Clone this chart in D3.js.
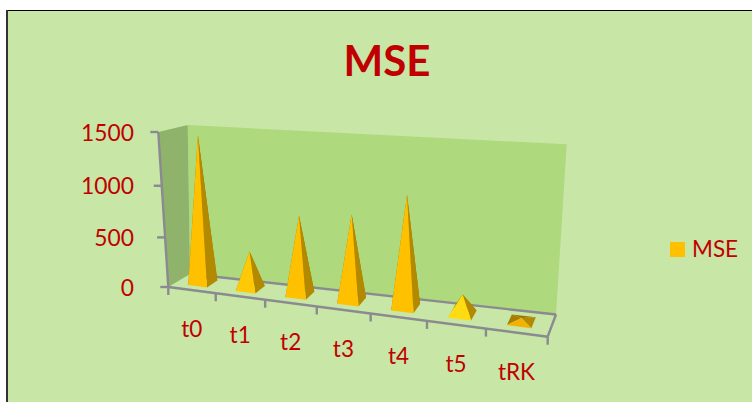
<!DOCTYPE html>
<html>
<head>
<meta charset="utf-8">
<script src="https://cdn.jsdelivr.net/npm/d3@7"></script>
<style>
html,body{margin:0;padding:0;background:#fff}
svg{display:block}
text{font-family:Lato,"Open Sans",sans-serif;fill:#c00000}
</style>
</head>
<body>
<svg id="chart" width="752" height="402"></svg>
<script>
const categories = ["t0","t1","t2","t3","t4","t5","tRK"];
const mseValues = [1450, 375, 770, 825, 1045, 185, 30];
const valueTicks = [0, 500, 1000, 1500];
const seriesName = "MSE";

const svg = d3.select("#chart");

// Chart area panel
svg.append("rect").attr("x",7).attr("y",10.5).attr("width",746).attr("height",393)
  .attr("fill","#c8e6a6").attr("stroke","#000").attr("stroke-width",1);
svg.append("rect").attr("x",6).attr("y",10).attr("width",2).attr("height",392).attr("fill","#333");

// Corners of the 3D box in screen space
const floorFL=[168.3,287], floorFR=[547.7,336.7], floorBR=[556,314.5], floorBL=[190,274];
const riseFL=[-10,-155], riseFR=[3,-176], riseBR=[10.7,-170.2], riseBL=[-2.3,-149];

const lerp=(a,b,t)=>[a[0]+(b[0]-a[0])*t,a[1]+(b[1]-a[1])*t];

// Foreshortening along the category and value axes
const foreshorten=c=>t=>t/(1+c*(1-t));
const warpU=foreshorten(1/6), warpH=foreshorten(1/16);

const band=d3.scaleBand().domain(categories).range([0,1]).paddingInner(.6).paddingOuter(.3);
const heightScale=d3.scaleLinear().domain([0,1500]).range([0,1]);

// u: along categories, v: depth (0 front, 1 back), value: height
function project(u,v,value){
  const w=warpU(u);
  const base=lerp(lerp(floorFL,floorFR,w),lerp(floorBL,floorBR,w),v);
  const rise=lerp(lerp(riseFL,riseFR,w),lerp(riseBL,riseBR,w),v);
  const h=warpH(heightScale(value));
  return [base[0]+rise[0]*h,base[1]+rise[1]*h];
}
const poly=pts=>pts.map(p=>p.map(n=>n.toFixed(2)).join(",")).join(" ");

// Walls
svg.append("polygon").attr("fill","#aed97d")
  .attr("points",poly([project(0,1,0),project(1,1,0),project(1,1,1500),project(0,1,1500)]));
svg.append("polygon").attr("fill","#8fb36b")
  .attr("points",poly([project(0,0,0),project(0,1,0),project(0,1,1500),project(0,0,1500)]));

// Floor edges and axis lines
const axisStyle=s=>s.attr("stroke","#8a8a90").attr("stroke-width",2.4).attr("fill","none");
const line=d3.line();
const edge=(a,b)=>axisStyle(svg.append("path").attr("d",line([a,b])));
edge(project(0,1,0),project(1,1,0));
edge(project(1,0,0),project(1,1,0));
edge(project(0,0,0),project(1,0,0));
edge(project(0,0,0),project(0,0,1500));

// Value axis ticks and labels
valueTicks.forEach(t=>{
  const p=project(0,0,t);
  edge([p[0]-8,p[1]],p);
  svg.append("text").attr("x",134).attr("y",p[1]+8.5).attr("text-anchor","end")
    .attr("font-size",22.8).text(d3.format("d")(t));
});

// Category axis ticks and labels
const step=band.step();
d3.range(categories.length+1).forEach(i=>{
  const p=project(i*step,0,0);
  edge(p,[p[0],p[1]+8]);
});
categories.forEach(c=>{
  const u=band(c)+band.bandwidth()/2;
  const p=project(u,0,0);
  svg.append("text").attr("x",p[0]).attr("y",p[1]+47).attr("text-anchor","middle")
    .attr("font-size",22.5).text(c);
});

// Pyramids
const frontColor=d3.scaleLinear().domain([30,170,350,700])
  .range(["#f4b200","#ffdc12","#ffcb05","#ffc000"]).clamp(true);
const depthFront=.28, depthBack=.78;
categories.forEach((c,i)=>{
  const u0=band(c), u1=u0+band.bandwidth(), um=(u0+u1)/2, vm=(depthFront+depthBack)/2;
  const fl=project(u0,depthFront,0), fr=project(u1,depthFront,0),
        br=project(u1,depthBack,0), bl=project(u0,depthBack,0),
        apex=project(um,vm,mseValues[i]);
  const front=frontColor(mseValues[i]);
  const g=svg.append("g");
  g.append("polygon").attr("points",poly([bl,br,apex])).attr("fill","#9a7400");
  g.append("polygon").attr("points",poly([fl,bl,apex])).attr("fill","#a67f00");
  g.append("polygon").attr("points",poly([fr,br,apex])).attr("fill","#b38900");
  g.append("polygon").attr("points",poly([fl,fr,apex])).attr("fill",front);
});

// Title
svg.append("text").attr("x",387).attr("y",76).attr("text-anchor","middle")
  .attr("font-size",42).attr("font-weight",700).text(seriesName);

// Legend
svg.append("rect").attr("x",670).attr("y",242).attr("width",15).attr("height",15).attr("fill","#ffc000");
svg.append("text").attr("x",692).attr("y",257).attr("font-size",22.5).text(seriesName);
</script>
</body>
</html>
